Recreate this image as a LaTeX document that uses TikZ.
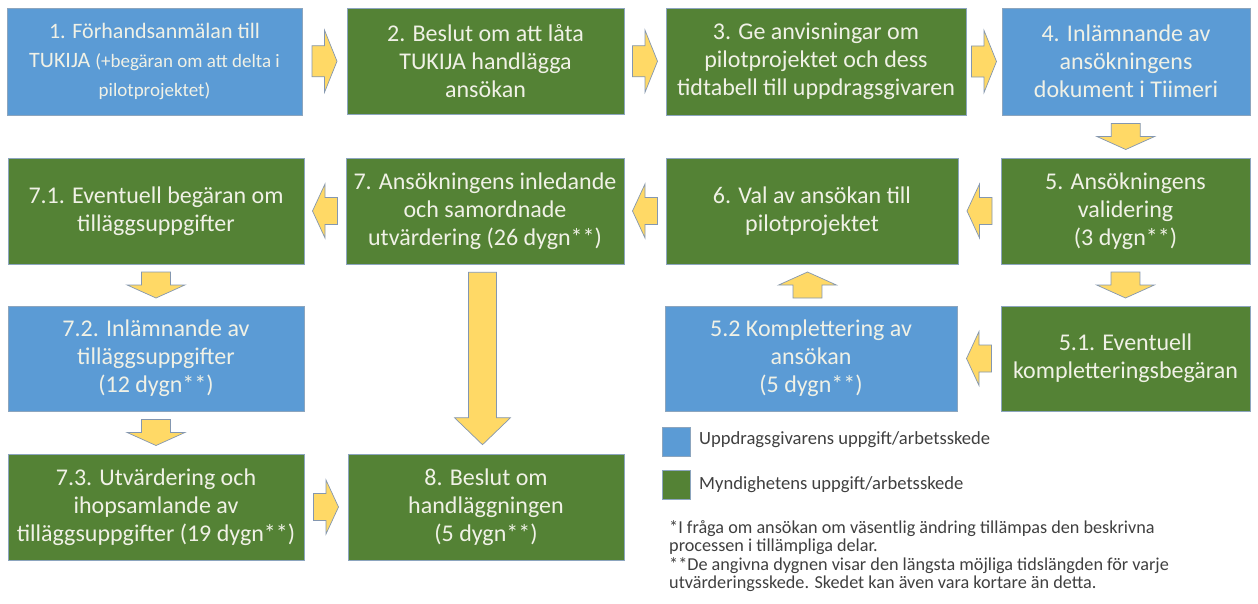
\documentclass[tikz,border=0pt]{standalone}
\usepackage{fontspec}
\setmainfont{Carlito}
\usetikzlibrary{calc}
\definecolor{boxblue}{RGB}{91,155,213}
\definecolor{boxgreen}{RGB}{84,130,53}
\definecolor{arrowfill}{RGB}{255,217,102}
\definecolor{arrowline}{RGB}{132,151,176}
\definecolor{boxline}{RGB}{140,165,190}
\definecolor{boxtext}{RGB}{240,241,230}
\definecolor{legtext}{RGB}{64,64,64}
\tikzset{
  box/.style={rectangle, draw=boxline, line width=0.6pt, text=boxtext, align=center,
    inner sep=0pt, font=\fontsize{24}{28}\selectfont},
  bluebox/.style={box, fill=boxblue},
  greenbox/.style={box, fill=boxgreen},
  legsq/.style={rectangle, draw=boxline, line width=0.6pt, minimum width=28pt, minimum height=29pt, inner sep=0pt},
  legtxt/.style={text=legtext, inner sep=0pt, font=\fontsize{18.6}{20}\selectfont},
  fntxt/.style={text=legtext, inner sep=0pt, anchor=base west, font=\fontsize{18.2}{18.5}\selectfont},
  blockarr/.style={fill=arrowfill, draw=arrowline, line width=0.7pt, line join=miter},
}
\newcommand\blockarrow[3][]{%
  \draw[blockarr, shift={#2}, rotate=#3, #1] (-12.5,-13.5) -- (0,-13.5) -- (0,-27) -- (12.5,0)
    -- (0,27) -- (0,13.5) -- (-12.5,13.5) -- cycle;}
\begin{document}
\begin{tikzpicture}[x=1pt,y=-1pt]
\useasboundingbox[fill=white] (0,0) rectangle (1258,604);
% row 1
\node[bluebox, minimum width=295pt, minimum height=107pt, font=\fontsize{22}{29}\selectfont] (b1) at (154.5,61.5)
  {1. Förhandsanmälan till\\TUKIJA {\fontsize{19}{29}\selectfont (+begäran om att delta i}\\{\fontsize{19}{29}\selectfont pilotprojektet)}};
\node[greenbox, minimum width=277pt, minimum height=106pt] (b2) at (485.5,61)
  {2. Beslut om att låta\\TUKIJA handlägga\\ansökan};
\node[greenbox, minimum width=300pt, minimum height=107pt] (b3) at (816,61.5)
  {3. Ge anvisningar om\\pilotprojektet och dess\\tidtabell till uppdragsgivaren};
\node[bluebox, minimum width=248pt, minimum height=107pt] (b4) at (1126,61.5)
  {4. Inlämnande av\\ansökningens\\dokument i Tiimeri};
% row 2
\node[greenbox, minimum width=249pt, minimum height=106pt] (b5) at (1125.5,211)
  {5. Ansökningens\\validering\\(3 dygn**)};
\node[greenbox, minimum width=292pt, minimum height=106pt] (b6) at (812,211)
  {6. Val av ansökan till\\pilotprojektet};
\node[greenbox, minimum width=278pt, minimum height=106pt] (b7) at (485,211)
  {7. Ansökningens inledande\\och samordnade\\utvärdering (26 dygn**)};
\node[greenbox, minimum width=296pt, minimum height=106pt] (b71) at (156,211)
  {7.1. Eventuell begäran om\\tilläggsuppgifter};
% row 3
\node[bluebox, minimum width=296pt, minimum height=105pt] (b72) at (156,358.5)
  {7.2. Inlämnande av\\tilläggsuppgifter\\(12 dygn**)};
\node[bluebox, minimum width=292pt, minimum height=105pt] (b52) at (811,358.5)
  {5.2 Komplettering av\\ansökan\\(5 dygn**)};
\node[greenbox, minimum width=249pt, minimum height=105pt] (b51) at (1125.5,358.5)
  {5.1. Eventuell\\kompletteringsbegäran};
% row 4
\node[greenbox, minimum width=296pt, minimum height=106pt] (b73) at (156,507)
  {7.3. Utvärdering och\\ihopsamlande av\\tilläggsuppgifter (19 dygn**)};
\node[greenbox, minimum width=276pt, minimum height=106pt] (b8) at (486,507)
  {8. Beslut om\\handläggningen\\(5 dygn**)};
% arrows
\blockarrow[yscale=1.15]{($(b1.east)!0.5!(b2.west)$)}{0}
\blockarrow[yscale=1.15]{($(b2.east)!0.5!(b3.west)$)}{0}
\blockarrow[yscale=1.15]{($(b3.east)!0.5!(b4.west)$)}{0}
\blockarrow[xscale=1.04,yscale=1.07]{($(b4.south)!0.5!(b5.north)$)}{-90}
\blockarrow{($(b5.west)!0.5!(b6.east)$)}{180}
\blockarrow{($(b6.west)!0.5!(b7.east)$)}{180}
\blockarrow{($(b7.west)!0.5!(b71.east)$)}{180}
\blockarrow[xscale=1.04,yscale=1.07]{($(b71.south)!0.5!(b72.north)$)}{-90}
\blockarrow[xscale=1.04,yscale=1.07]{($(b72.south)!0.5!(b73.north)$)}{-90}
\blockarrow{($(b73.east)!0.5!(b8.west)$)}{0}
\blockarrow[xscale=1.04,yscale=1.07]{($(b5.south)!0.5!(b51.north)$)}{-90}
\blockarrow{($(b51.west)!0.5!(b52.east)$)}{180}
\blockarrow[xscale=1.04,yscale=1.07]{($(b52.north)!0.5!(b6.south)+(-4,0)$)}{90}
% long arrow 7 -> 8
\draw[blockarr] let \p1=($(b7.south)+(-2.5,8)$), \p2=($(b8.north)+(-2.5,-9)$) in
  (\x1-14pt,\y1) -- (\x1+14pt,\y1) -- (\x1+14pt,\y2+27pt) -- (\x1+28pt,\y2+27pt)
  -- (\x1,\y2) -- (\x1-28pt,\y2+27pt) -- (\x1-14pt,\y2+27pt) -- cycle;
% legend
\node[legsq, fill=boxblue] (lg1) at (676,441.5) {};
\node[legsq, fill=boxgreen] (lg2) at (676,485) {};
\node[legtxt, anchor=west] (lt1) at (699,440) {Uppdragsgivarens uppgift/arbetsskede};
\node[legtxt, anchor=west] (lt2) at (699,485) {Myndighetens uppgift/arbetsskede};
% footnotes
\node[fntxt] (fn1) at (669,533) {*I fråga om ansökan om väsentlig ändring tillämpas den beskrivna};
\node[fntxt] (fn2) at (669,551.5) {processen i tillämpliga delar.};
\node[fntxt] (fn3) at (669,570) {**De angivna dygnen visar den längsta möjliga tidslängden för varje};
\node[fntxt] (fn4) at (669,588.5) {utvärderingsskede. Skedet kan även vara kortare än detta.};
\end{tikzpicture}
\end{document}
